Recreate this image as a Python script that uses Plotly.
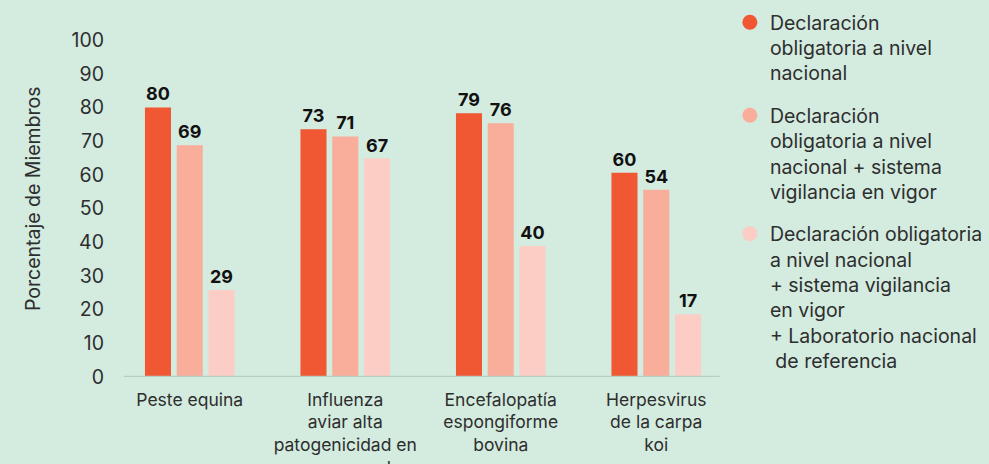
import plotly.graph_objects as go

categories = ["Peste equina",
              "Influenza<br>aviar alta<br>patogenicidad en<br>aves corral",
              "Encefalopatía<br>espongiforme<br>bovina",
              "Herpesvirus<br>de la carpa<br>koi"]

series_names = [
    "Declaración<br>obligatoria a nivel<br>nacional",
    "Declaración<br>obligatoria a nivel<br>nacional + sistema<br>vigilancia en vigor",
    "Declaración obligatoria<br>a nivel nacional<br>+ sistema vigilancia<br>en vigor<br>+ Laboratorio nacional<br> de referencia",
]

y_title = "Porcentaje de Miembros"

# bar heights as drawn in the reference
bar_values = [
    [80, 73.5, 78.3, 60.6],
    [68.8, 71.4, 75.3, 55.6],
    [25.8, 64.8, 38.9, 18.6],
]
# printed value labels
value_labels = [
    [80, 73, 79, 60],
    [69, 71, 76, 54],
    [29, 67, 40, 17],
]

colors = ["#F05733", "#F9AE9B", "#FBCDC4"]
bg = "#D4EBDF"
text_col = "#2E2E2E"
font_family = "Inter, Liberation Sans, Arial, sans-serif"

fig = go.Figure()
for i in range(3):
    fig.add_trace(go.Bar(
        x=categories, y=bar_values[i], name=series_names[i],
        marker=dict(color=colors[i], line=dict(width=0)),
        text=[str(v) for v in value_labels[i]],
        textposition="outside", cliponaxis=False,
        textfont=dict(family=font_family, size=18, color="#111111", weight="bold"),
        showlegend=False, hoverinfo="skip",
    ))
for i in range(3):
    fig.add_trace(go.Scatter(
        x=[None], y=[None], mode="markers", name=series_names[i],
        marker=dict(color=colors[i], size=15, symbol="circle"),
        legendgroup=f"g{i}", showlegend=True,
    ))

fig.update_layout(
    width=989, height=464,
    paper_bgcolor=bg, plot_bgcolor=bg,
    margin=dict(l=112, r=255, t=40, b=87, autoexpand=False),
    barmode="group", bargap=0.387, bargroupgap=0.18,
    font=dict(family=font_family, color=text_col),
    legend=dict(
        xref="container", yref="container", x=0.738, y=0.9935,
        xanchor="left", yanchor="top", maxheight=1,
        font=dict(family=font_family, size=19.5, color=text_col),
        valign="top", traceorder="grouped", tracegroupgap=14,
        itemsizing="trace", bgcolor="rgba(0,0,0,0)",
    ),
    xaxis=dict(
        type="category", range=[-0.5, 3.5], showgrid=False, showline=False,
        zeroline=False, ticks="", ticklabelstandoff=10, automargin=False,
        tickfont=dict(family=font_family, size=17.5, color=text_col),
    ),
    yaxis=dict(
        range=[0, 100], tickvals=list(range(0, 101, 10)), showgrid=False,
        zeroline=False, showline=False, ticks="", ticklabelstandoff=7,
        automargin=False,
        tickfont=dict(family=font_family, size=19.5, color=text_col),
    ),
    annotations=[dict(text=y_title, xref="paper", yref="paper",
                      x=-0.127, y=0.528, textangle=-90, showarrow=False,
                      xanchor="center", yanchor="middle",
                      font=dict(family=font_family, size=19.5, color=text_col))],
    shapes=[dict(type="line", xref="paper", yref="y", x0=0.019, x1=0.977,
                 y0=0, y1=0, line=dict(color="#B9CDC3", width=2.5))],
)

fig.write_html(
    "out.html",
    config={"displayModeBar": False},
    post_script="document.body.style.margin='0';document.body.style.background='%s';" % bg,
)
